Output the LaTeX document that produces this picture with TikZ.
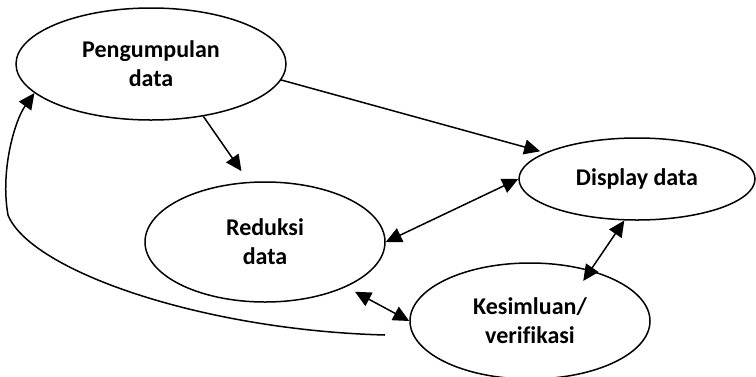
\documentclass[tikz,border=0pt]{standalone}
\usepackage{fontspec}
\setmainfont{Carlito}[Ligatures=NoCommon]
\usepackage{tikz}
\usetikzlibrary{shapes.geometric, arrows.meta}

\begin{document}
\begin{tikzpicture}[
    x=1pt, y=-1pt,
    bubble/.style={draw, ellipse, line width=1.5pt, inner sep=0pt, align=center, font=\bfseries\fontsize{24}{29}\selectfont},
    arrow/.style={-{Triangle[length=16pt, width=15pt]}, line width=1.5pt},
    biarrow/.style={{Triangle[length=16pt, width=15pt]}-{Triangle[length=16pt, width=15pt]}, line width=1.5pt}
]
    \useasboundingbox (0,0) rectangle (756,376);

    % Stages of the analysis
    \node[bubble, minimum width=270pt, minimum height=112pt] (collect) at (151,64) {Pengumpulan\\data};
    \node[bubble, minimum width=240pt, minimum height=120pt] (reduce) at (265,242) {Reduksi\\data};
    \node[bubble, minimum width=236pt, minimum height=82pt] (display) at (637,179) {Display data};
    \node[bubble, minimum width=240pt, minimum height=116pt] (conclude) at (530,321) {Kesimluan/\\verifikasi};

    % Connections
    \draw[arrow, shorten >=13pt] (collect.-45) -- (reduce.105);
    \draw[arrow, shorten >=5pt] (collect.-7) -- (display.164);
    \draw[biarrow] (reduce.east) -- (display.west);
    \draw[biarrow, shorten >=-13pt] (display.253) -- (conclude.40);
    \draw[biarrow, shorten <=10pt] (reduce.-29) -- (conclude.west);

    % Feedback loop
    \coordinate (loopstart) at (385,335);
    \draw[arrow] (loopstart) .. controls (200,330) and (30,270) .. (8,215)
        .. controls (0,170) and (15,120) .. (collect.194);
\end{tikzpicture}
\end{document}
